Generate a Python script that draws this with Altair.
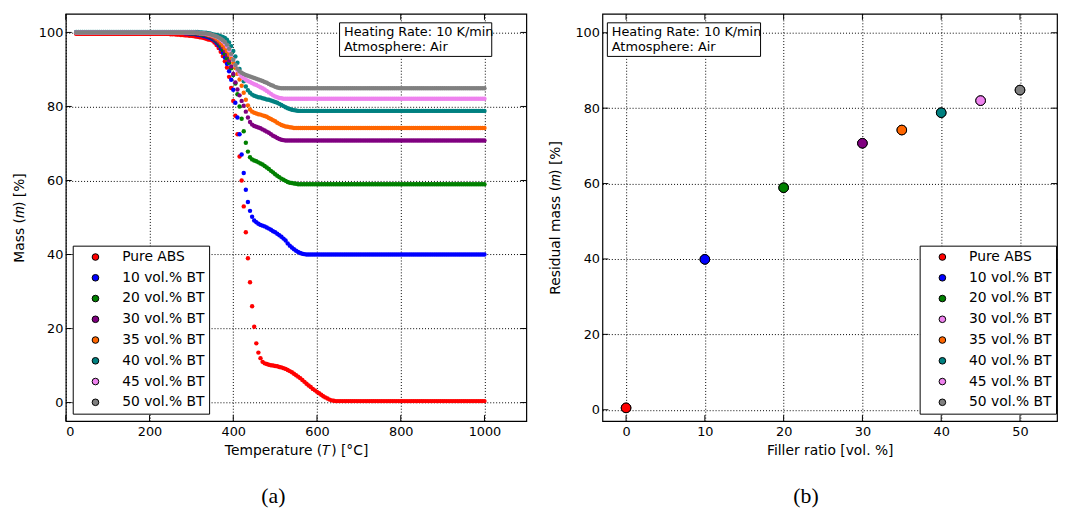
import altair as alt
import pandas as pd

# ---------------- data ----------------
LABELS = ["Pure ABS", "10 vol.% BT", "20 vol.% BT", "30 vol.% BT",
          "35 vol.% BT", "40 vol.% BT", "45 vol.% BT", "50 vol.% BT"]
COLORS = ["#ff0000", "#0000ff", "#008000", "#800080",
          "#ff6600", "#008080", "#ee82ee", "#808080"]
LEGEND_B_COLORS = ["#ff0000", "#0000ff", "#008000", "#ee82ee",
                   "#ff6600", "#008080", "#ee82ee", "#808080"]

X_TICKS_A = [0, 200, 400, 600, 800, 1000]
Y_TICKS = [0, 20, 40, 60, 80, 100]
X_TICKS_B = [0, 10, 20, 30, 40, 50]

BOX_LINES = ["Heating Rate: 10 K/min", "Atmosphere: Air"]
CAPTIONS = ["(a)", "(b)"]

TEMPERATURE = [
    25, 30, 35, 40, 45, 50, 55, 60, 65, 70,
    75, 80, 85, 90, 95, 100, 105, 110, 115, 120,
    125, 130, 135, 140, 145, 150, 155, 160, 165, 170,
    175, 180, 185, 190, 195, 200, 205, 210, 215, 220,
    225, 230, 235, 240, 245, 250, 255, 260, 265, 270,
    275, 280, 285, 290, 295, 300, 305, 310, 315, 320,
    325, 330, 335, 340, 345,
    350, 355, 360, 365, 370, 375, 380, 385, 390, 395,
    400, 405, 410, 415, 420, 425, 430, 435, 440, 445,
    450, 455, 460, 465, 470, 475, 480, 485, 490, 495,
    500, 505, 510, 515, 520, 525, 530, 535, 540, 545,
    550, 555, 560, 565, 570, 575, 580, 585, 590, 595,
    600, 605, 610, 615, 620, 625, 630, 635, 640, 645,
    650,
    655, 660, 665, 670, 675, 680, 685, 690, 695, 700,
    705, 710, 715, 720, 725, 730, 735, 740, 745, 750,
    755, 760, 765, 770, 775, 780, 785, 790, 795, 800,
    805, 810, 815, 820, 825, 830, 835, 840, 845, 850,
    855, 860, 865, 870, 875, 880, 885, 890, 895, 900,
    905, 910, 915, 920, 925, 930, 935, 940, 945, 950,
    955, 960, 965, 970, 975, 980, 985, 990, 995, 1000]

MASS_ABS = [
    99.6, 99.6, 99.6, 99.6, 99.6, 99.6, 99.6, 99.6, 99.6, 99.6,
    99.6, 99.6, 99.6, 99.6, 99.6, 99.6, 99.6, 99.6, 99.6, 99.6,
    99.6, 99.6, 99.6, 99.6, 99.6, 99.6, 99.6, 99.6, 99.6, 99.6,
    99.6, 99.6, 99.6, 99.6, 99.6, 99.6, 99.6, 99.6, 99.6, 99.6,
    99.6, 99.6, 99.6, 99.6, 99.6, 99.5, 99.5, 99.5, 99.4, 99.4,
    99.3, 99.3, 99.2, 99.2, 99.1, 99.1, 99.0, 98.9, 98.8, 98.7,
    98.6, 98.5, 98.3, 98.1, 98.0,
    97.8, 97.3, 96.6, 95.8, 94.8, 93.6, 92.2, 90.5, 88.0, 85.0,
    81.5, 77.5, 72.5, 66.5, 60.0, 53.0, 46.0, 39.0, 32.5, 26.0,
    20.5, 16.0, 13.5, 12.0, 11.0, 10.6, 10.4, 10.2, 10.1, 10.0,
    9.9, 9.8, 9.6, 9.5, 9.3, 9.1, 8.8, 8.5, 8.2, 7.8,
    7.4, 7.0, 6.6, 6.1, 5.6, 5.1, 4.6, 4.2, 3.7, 3.3,
    2.9, 2.5, 2.1, 1.7, 1.4, 1.1, 0.8, 0.6, 0.5, 0.4,
    0.4,
    0.4, 0.4, 0.4, 0.4, 0.4, 0.4, 0.4, 0.4, 0.4, 0.4,
    0.4, 0.4, 0.4, 0.4, 0.4, 0.4, 0.4, 0.4, 0.4, 0.4,
    0.4, 0.4, 0.4, 0.4, 0.4, 0.4, 0.4, 0.4, 0.4, 0.4,
    0.4, 0.4, 0.4, 0.4, 0.4, 0.4, 0.4, 0.4, 0.4, 0.4,
    0.4, 0.4, 0.4, 0.4, 0.4, 0.4, 0.4, 0.4, 0.4, 0.4,
    0.4, 0.4, 0.4, 0.4, 0.4, 0.4, 0.4, 0.4, 0.4, 0.4,
    0.4, 0.4, 0.4, 0.4, 0.4, 0.4, 0.4, 0.4, 0.4, 0.4]
MASS_10 = [
    100.0, 100.0, 100.0, 100.0, 100.0, 100.0, 100.0, 100.0, 100.0, 100.0,
    100.0, 100.0, 100.0, 100.0, 100.0, 100.0, 100.0, 100.0, 100.0, 100.0,
    100.0, 100.0, 100.0, 100.0, 100.0, 100.0, 100.0, 100.0, 100.0, 100.0,
    100.0, 100.0, 100.0, 100.0, 100.0, 100.0, 100.0, 100.0, 100.0, 100.0,
    100.0, 100.0, 100.0, 100.0, 100.0, 100.0, 100.0, 100.0, 99.9, 99.9,
    99.9, 99.9, 99.8, 99.8, 99.7, 99.7, 99.6, 99.5, 99.4, 99.3,
    99.2, 99.0, 98.9, 98.7, 98.5,
    98.2, 97.8, 97.2, 96.5, 95.6, 94.5, 93.2, 91.5, 89.5, 87.2,
    84.5, 81.0, 77.0, 72.5, 67.0, 62.0, 57.5, 54.2, 51.8, 50.2,
    49.2, 48.7, 48.3, 48.0, 47.8, 47.6, 47.3, 47.0, 46.7, 46.3,
    46.0, 45.6, 45.2, 44.8, 44.3, 43.8, 43.0, 42.4, 41.9, 41.4,
    41.0, 40.7, 40.4, 40.2, 40.1, 40.0, 40.0, 40.0, 40.0, 40.0,
    40.0, 40.0, 40.0, 40.0, 40.0, 40.0, 40.0, 40.0, 40.0, 40.0,
    40.0,
    40.0, 40.0, 40.0, 40.0, 40.0, 40.0, 40.0, 40.0, 40.0, 40.0,
    40.0, 40.0, 40.0, 40.0, 40.0, 40.0, 40.0, 40.0, 40.0, 40.0,
    40.0, 40.0, 40.0, 40.0, 40.0, 40.0, 40.0, 40.0, 40.0, 40.0,
    40.0, 40.0, 40.0, 40.0, 40.0, 40.0, 40.0, 40.0, 40.0, 40.0,
    40.0, 40.0, 40.0, 40.0, 40.0, 40.0, 40.0, 40.0, 40.0, 40.0,
    40.0, 40.0, 40.0, 40.0, 40.0, 40.0, 40.0, 40.0, 40.0, 40.0,
    40.0, 40.0, 40.0, 40.0, 40.0, 40.0, 40.0, 40.0, 40.0, 40.0]
MASS_20 = [
    100.0, 100.0, 100.0, 100.0, 100.0, 100.0, 100.0, 100.0, 100.0, 100.0,
    100.0, 100.0, 100.0, 100.0, 100.0, 100.0, 100.0, 100.0, 100.0, 100.0,
    100.0, 100.0, 100.0, 100.0, 100.0, 100.0, 100.0, 100.0, 100.0, 100.0,
    100.0, 100.0, 100.0, 100.0, 100.0, 100.0, 100.0, 100.0, 100.0, 100.0,
    100.0, 100.0, 100.0, 100.0, 100.0, 100.0, 100.0, 100.0, 100.0, 100.0,
    99.9, 99.9, 99.9, 99.9, 99.8, 99.8, 99.7, 99.7, 99.6, 99.5,
    99.4, 99.3, 99.2, 99.0, 98.8,
    98.5, 98.1, 97.6, 97.0, 96.2, 95.3, 94.2, 93.0, 91.8, 90.3,
    88.5, 86.2, 83.3, 80.0, 76.7, 73.3, 70.2, 67.8, 66.3, 65.7,
    65.4, 65.2, 64.9, 64.6, 64.3, 63.9, 63.5, 63.1, 62.6, 62.2,
    61.7, 61.3, 60.9, 60.5, 60.2, 59.9, 59.6, 59.4, 59.3, 59.2,
    59.1, 59.0, 59.0, 59.0, 59.0, 59.0, 59.0, 59.0, 59.0, 59.0,
    59.0, 59.0, 59.0, 59.0, 59.0, 59.0, 59.0, 59.0, 59.0, 59.0,
    59.0,
    59.0, 59.0, 59.0, 59.0, 59.0, 59.0, 59.0, 59.0, 59.0, 59.0,
    59.0, 59.0, 59.0, 59.0, 59.0, 59.0, 59.0, 59.0, 59.0, 59.0,
    59.0, 59.0, 59.0, 59.0, 59.0, 59.0, 59.0, 59.0, 59.0, 59.0,
    59.0, 59.0, 59.0, 59.0, 59.0, 59.0, 59.0, 59.0, 59.0, 59.0,
    59.0, 59.0, 59.0, 59.0, 59.0, 59.0, 59.0, 59.0, 59.0, 59.0,
    59.0, 59.0, 59.0, 59.0, 59.0, 59.0, 59.0, 59.0, 59.0, 59.0,
    59.0, 59.0, 59.0, 59.0, 59.0, 59.0, 59.0, 59.0, 59.0, 59.0]
MASS_30 = [
    100.0, 100.0, 100.0, 100.0, 100.0, 100.0, 100.0, 100.0, 100.0, 100.0,
    100.0, 100.0, 100.0, 100.0, 100.0, 100.0, 100.0, 100.0, 100.0, 100.0,
    100.0, 100.0, 100.0, 100.0, 100.0, 100.0, 100.0, 100.0, 100.0, 100.0,
    100.0, 100.0, 100.0, 100.0, 100.0, 100.0, 100.0, 100.0, 100.0, 100.0,
    100.0, 100.0, 100.0, 100.0, 100.0, 100.0, 100.0, 100.0, 100.0, 100.0,
    100.0, 100.0, 99.9, 99.9, 99.9, 99.9, 99.8, 99.8, 99.7, 99.7,
    99.6, 99.5, 99.3, 99.2, 99.0,
    98.7, 98.3, 97.9, 97.4, 96.8, 96.0, 95.0, 93.8, 92.4, 90.8,
    88.8, 86.5, 84.6, 83.0, 81.5, 80.2, 78.6, 77.0, 75.8, 75.1,
    74.7, 74.5, 74.3, 74.1, 73.8, 73.5, 73.2, 72.9, 72.5, 72.1,
    71.8, 71.5, 71.2, 71.0, 70.9, 70.8, 70.8, 70.8, 70.8, 70.8,
    70.8, 70.8, 70.8, 70.8, 70.8, 70.8, 70.8, 70.8, 70.8, 70.8,
    70.8, 70.8, 70.8, 70.8, 70.8, 70.8, 70.8, 70.8, 70.8, 70.8,
    70.8,
    70.8, 70.8, 70.8, 70.8, 70.8, 70.8, 70.8, 70.8, 70.8, 70.8,
    70.8, 70.8, 70.8, 70.8, 70.8, 70.8, 70.8, 70.8, 70.8, 70.8,
    70.8, 70.8, 70.8, 70.8, 70.8, 70.8, 70.8, 70.8, 70.8, 70.8,
    70.8, 70.8, 70.8, 70.8, 70.8, 70.8, 70.8, 70.8, 70.8, 70.8,
    70.8, 70.8, 70.8, 70.8, 70.8, 70.8, 70.8, 70.8, 70.8, 70.8,
    70.8, 70.8, 70.8, 70.8, 70.8, 70.8, 70.8, 70.8, 70.8, 70.8,
    70.8, 70.8, 70.8, 70.8, 70.8, 70.8, 70.8, 70.8, 70.8, 70.8]
MASS_35 = [
    100.0, 100.0, 100.0, 100.0, 100.0, 100.0, 100.0, 100.0, 100.0, 100.0,
    100.0, 100.0, 100.0, 100.0, 100.0, 100.0, 100.0, 100.0, 100.0, 100.0,
    100.0, 100.0, 100.0, 100.0, 100.0, 100.0, 100.0, 100.0, 100.0, 100.0,
    100.0, 100.0, 100.0, 100.0, 100.0, 100.0, 100.0, 100.0, 100.0, 100.0,
    100.0, 100.0, 100.0, 100.0, 100.0, 100.0, 100.0, 100.0, 100.0, 100.0,
    100.0, 100.0, 100.0, 100.0, 99.9, 99.9, 99.9, 99.9, 99.8, 99.8,
    99.7, 99.6, 99.5, 99.3, 99.2,
    99.0, 98.7, 98.3, 97.8, 97.2, 96.5, 95.7, 94.9, 94.0, 93.0,
    91.8, 90.4, 88.8, 87.3, 85.6, 83.7, 81.8, 80.3, 79.2, 78.6,
    78.3, 78.1, 77.9, 77.8, 77.6, 77.4, 77.2, 76.9, 76.6, 76.3,
    76.0, 75.6, 75.3, 75.0, 74.8, 74.6, 74.5, 74.4, 74.3, 74.2,
    74.2, 74.2, 74.2, 74.2, 74.2, 74.2, 74.2, 74.2, 74.2, 74.2,
    74.2, 74.2, 74.2, 74.2, 74.2, 74.2, 74.2, 74.2, 74.2, 74.2,
    74.2,
    74.2, 74.2, 74.2, 74.2, 74.2, 74.2, 74.2, 74.2, 74.2, 74.2,
    74.2, 74.2, 74.2, 74.2, 74.2, 74.2, 74.2, 74.2, 74.2, 74.2,
    74.2, 74.2, 74.2, 74.2, 74.2, 74.2, 74.2, 74.2, 74.2, 74.2,
    74.2, 74.2, 74.2, 74.2, 74.2, 74.2, 74.2, 74.2, 74.2, 74.2,
    74.2, 74.2, 74.2, 74.2, 74.2, 74.2, 74.2, 74.2, 74.2, 74.2,
    74.2, 74.2, 74.2, 74.2, 74.2, 74.2, 74.2, 74.2, 74.2, 74.2,
    74.2, 74.2, 74.2, 74.2, 74.2, 74.2, 74.2, 74.2, 74.2, 74.2]
MASS_40 = [
    100.1, 100.1, 100.1, 100.1, 100.1, 100.1, 100.1, 100.1, 100.1, 100.1,
    100.1, 100.1, 100.1, 100.1, 100.1, 100.1, 100.1, 100.1, 100.1, 100.1,
    100.1, 100.1, 100.1, 100.1, 100.1, 100.1, 100.1, 100.1, 100.1, 100.1,
    100.1, 100.1, 100.1, 100.1, 100.1, 100.1, 100.1, 100.1, 100.1, 100.1,
    100.1, 100.1, 100.1, 100.1, 100.1, 100.1, 100.1, 100.1, 100.1, 100.1,
    100.1, 100.1, 100.1, 100.1, 100.1, 100.1, 100.1, 100.1, 100.1, 100.0,
    100.0, 99.9, 99.9, 99.8, 99.7,
    99.5, 99.4, 99.3, 99.2, 99.0, 98.8, 98.5, 98.0, 97.3, 96.3,
    95.0, 93.5, 91.8, 90.1, 88.4, 86.8, 85.4, 84.4, 83.7, 83.2,
    82.9, 82.7, 82.5, 82.4, 82.2, 82.1, 81.9, 81.8, 81.6, 81.4,
    81.2, 81.0, 80.7, 80.4, 80.1, 79.8, 79.5, 79.3, 79.1, 79.0,
    78.9, 78.8, 78.8, 78.8, 78.8, 78.8, 78.8, 78.8, 78.8, 78.8,
    78.8, 78.8, 78.8, 78.8, 78.8, 78.8, 78.8, 78.8, 78.8, 78.8,
    78.8,
    78.8, 78.8, 78.8, 78.8, 78.8, 78.8, 78.8, 78.8, 78.8, 78.8,
    78.8, 78.8, 78.8, 78.8, 78.8, 78.8, 78.8, 78.8, 78.8, 78.8,
    78.8, 78.8, 78.8, 78.8, 78.8, 78.8, 78.8, 78.8, 78.8, 78.8,
    78.8, 78.8, 78.8, 78.8, 78.8, 78.8, 78.8, 78.8, 78.8, 78.8,
    78.8, 78.8, 78.8, 78.8, 78.8, 78.8, 78.8, 78.8, 78.8, 78.8,
    78.8, 78.8, 78.8, 78.8, 78.8, 78.8, 78.8, 78.8, 78.8, 78.8,
    78.8, 78.8, 78.8, 78.8, 78.8, 78.8, 78.8, 78.8, 78.8, 78.8]
MASS_45 = [
    100.0, 100.0, 100.0, 100.0, 100.0, 100.0, 100.0, 100.0, 100.0, 100.0,
    100.0, 100.0, 100.0, 100.0, 100.0, 100.0, 100.0, 100.0, 100.0, 100.0,
    100.0, 100.0, 100.0, 100.0, 100.0, 100.0, 100.0, 100.0, 100.0, 100.0,
    100.0, 100.0, 100.0, 100.0, 100.0, 100.0, 100.0, 100.0, 100.0, 100.0,
    100.0, 100.0, 100.0, 100.0, 100.0, 100.0, 100.0, 100.0, 100.0, 100.0,
    100.0, 100.0, 100.0, 100.0, 100.0, 100.0, 100.0, 99.9, 99.9, 99.8,
    99.8, 99.7, 99.6, 99.5, 99.4,
    99.2, 99.0, 98.8, 98.5, 98.1, 97.6, 97.0, 96.2, 95.2, 94.0,
    92.6, 91.1, 89.8, 88.8, 88.1, 87.6, 87.2, 86.9, 86.6, 86.3,
    86.0, 85.8, 85.5, 85.2, 84.9, 84.6, 84.2, 83.8, 83.4, 83.0,
    82.7, 82.5, 82.3, 82.2, 82.1, 82.1, 82.1, 82.1, 82.1, 82.1,
    82.1, 82.1, 82.1, 82.1, 82.1, 82.1, 82.1, 82.1, 82.1, 82.1,
    82.1, 82.1, 82.1, 82.1, 82.1, 82.1, 82.1, 82.1, 82.1, 82.1,
    82.1,
    82.1, 82.1, 82.1, 82.1, 82.1, 82.1, 82.1, 82.1, 82.1, 82.1,
    82.1, 82.1, 82.1, 82.1, 82.1, 82.1, 82.1, 82.1, 82.1, 82.1,
    82.1, 82.1, 82.1, 82.1, 82.1, 82.1, 82.1, 82.1, 82.1, 82.1,
    82.1, 82.1, 82.1, 82.1, 82.1, 82.1, 82.1, 82.1, 82.1, 82.1,
    82.1, 82.1, 82.1, 82.1, 82.1, 82.1, 82.1, 82.1, 82.1, 82.1,
    82.1, 82.1, 82.1, 82.1, 82.1, 82.1, 82.1, 82.1, 82.1, 82.1,
    82.1, 82.1, 82.1, 82.1, 82.1, 82.1, 82.1, 82.1, 82.1, 82.1]
MASS_50 = [
    100.0, 100.0, 100.0, 100.0, 100.0, 100.0, 100.0, 100.0, 100.0, 100.0,
    100.0, 100.0, 100.0, 100.0, 100.0, 100.0, 100.0, 100.0, 100.0, 100.0,
    100.0, 100.0, 100.0, 100.0, 100.0, 100.0, 100.0, 100.0, 100.0, 100.0,
    100.0, 100.0, 100.0, 100.0, 100.0, 100.0, 100.0, 100.0, 100.0, 100.0,
    100.0, 100.0, 100.0, 100.0, 100.0, 100.0, 100.0, 100.0, 100.0, 100.0,
    100.0, 100.0, 100.0, 100.0, 100.0, 100.0, 100.0, 99.9, 99.9, 99.8,
    99.8, 99.7, 99.7, 99.6, 99.5,
    99.3, 99.1, 98.9, 98.6, 98.3, 97.9, 97.4, 96.7, 95.6, 94.2,
    92.6, 91.2, 90.2, 89.5, 89.1, 88.8, 88.5, 88.3, 88.1, 87.9,
    87.7, 87.5, 87.3, 87.1, 86.9, 86.6, 86.4, 86.1, 85.8, 85.6,
    85.3, 85.1, 85.0, 84.9, 84.9, 84.9, 84.9, 84.9, 84.9, 84.9,
    84.9, 84.9, 84.9, 84.9, 84.9, 84.9, 84.9, 84.9, 84.9, 84.9,
    84.9, 84.9, 84.9, 84.9, 84.9, 84.9, 84.9, 84.9, 84.9, 84.9,
    84.9,
    84.9, 84.9, 84.9, 84.9, 84.9, 84.9, 84.9, 84.9, 84.9, 84.9,
    84.9, 84.9, 84.9, 84.9, 84.9, 84.9, 84.9, 84.9, 84.9, 84.9,
    84.9, 84.9, 84.9, 84.9, 84.9, 84.9, 84.9, 84.9, 84.9, 84.9,
    84.9, 84.9, 84.9, 84.9, 84.9, 84.9, 84.9, 84.9, 84.9, 84.9,
    84.9, 84.9, 84.9, 84.9, 84.9, 84.9, 84.9, 84.9, 84.9, 84.9,
    84.9, 84.9, 84.9, 84.9, 84.9, 84.9, 84.9, 84.9, 84.9, 84.9,
    84.9, 84.9, 84.9, 84.9, 84.9, 84.9, 84.9, 84.9, 84.9, 84.9]

FILLER = [0, 10, 20, 30, 35, 40, 45, 50]
RESIDUAL = [0.5, 39.9, 58.9, 70.7, 74.2, 78.8, 82.0, 84.8]

SERIES = [MASS_ABS, MASS_10, MASS_20, MASS_30, MASS_35, MASS_40, MASS_45, MASS_50]
for s in SERIES:
    assert len(s) == len(TEMPERATURE), (len(s), len(TEMPERATURE))

# ---------------- tables ----------------
rows = []
for label, vals in zip(LABELS, SERIES):
    for t, m in zip(TEMPERATURE, vals):
        rows.append({"T": t, "mass": m, "series": label})
df_a = pd.DataFrame(rows)
df_b = pd.DataFrame({"filler": FILLER, "residual": RESIDUAL, "label": LABELS})

# ---------------- layout constants ----------------
W_A, W_B, H = 466, 460, 412
FONT = "DejaVu Sans"
TICK = 6

XS_A = alt.Scale(domain=[0, 1100], nice=False, zero=False)
YS_A = alt.Scale(domain=[-5, 105], nice=False, zero=False)
XS_B = alt.Scale(domain=[-3, 54.7], nice=False, zero=False)
YS_B = alt.Scale(domain=[-3, 105], nice=False, zero=False)

AX_XA = alt.Axis(values=X_TICKS_A, format="d", title="Temperature (𝑇) [°C]")
AX_YA = alt.Axis(values=Y_TICKS, format="d", title="Mass (𝑚) [%]")
AX_XB = alt.Axis(values=X_TICKS_B, format="d", title="Filler ratio [vol. %]")
AX_YB = alt.Axis(values=Y_TICKS, format="d", title="Residual mass (𝑚) [%]")


def legend(x, y):
    return alt.Legend(orient="none", legendX=x, legendY=y, title=None,
                      strokeColor="black", fillColor="white", padding=4.5,
                      symbolOffset=11.5, symbolSize=45, symbolType="circle",
                      symbolStrokeColor="black", symbolStrokeWidth=1,
                      symbolOpacity=1, labelFont=FONT, labelFontSize=14,
                      labelColor="black", labelOffset=20, rowPadding=7,
                      cornerRadius=0)


def tick_layers(xvals, yvals, xs, ys, xax, yax, w):
    dx = pd.DataFrame({"v": xvals})
    dy = pd.DataFrame({"v": yvals})
    xa = alt.X("v:Q", scale=xs, axis=xax)
    ya = alt.Y("v:Q", scale=ys, axis=yax)
    base = dict(color="black", strokeWidth=1)
    return [
        alt.Chart(dy).mark_rule(**base).encode(y=ya, x=alt.value(0), x2=alt.value(TICK)),
        alt.Chart(dy).mark_rule(**base).encode(y=ya, x=alt.value(w), x2=alt.value(w - TICK)),
        alt.Chart(dx).mark_rule(**base).encode(x=xa, y=alt.value(0), y2=alt.value(TICK)),
        alt.Chart(dx).mark_rule(**base).encode(x=xa, y=alt.value(H), y2=alt.value(H - TICK)),
    ]


def info_box(x0, x1):
    one = df_b.head(1)
    box = alt.Chart(one).mark_rect(fill="white", stroke="black", strokeWidth=1).encode(
        x=alt.value(x0), x2=alt.value(x1), y=alt.value(9), y2=alt.value(43))
    t1 = alt.Chart(one).mark_text(text=BOX_LINES[0], font=FONT, fontSize=13, align="left",
                                  baseline="middle", color="black").encode(
        x=alt.value(x0 + 4.5), y=alt.value(18))
    t2 = alt.Chart(one).mark_text(text=BOX_LINES[1], font=FONT, fontSize=13, align="left",
                                  baseline="middle", color="black").encode(
        x=alt.value(x0 + 4.5), y=alt.value(33.5))
    return [box, t1, t2]


def caption(text, x):
    return alt.Chart(df_b.head(1)).mark_text(text=text, font="Liberation Serif", fontSize=22,
                                             align="center", baseline="middle", color="black").encode(
        x=alt.value(x), y=alt.value(488))


# ---------------- panel (a) ----------------
dots = alt.Chart(df_a).mark_circle(size=20, opacity=1).encode(
    x=alt.X("T:Q", scale=XS_A, axis=AX_XA),
    y=alt.Y("mass:Q", scale=YS_A, axis=AX_YA),
    color=alt.Color("series:N", scale=alt.Scale(domain=LABELS, range=COLORS),
                    legend=legend(7, 234.5)),
)
panel_a = alt.layer(dots, *tick_layers(X_TICKS_A, Y_TICKS, XS_A, YS_A, AX_XA, AX_YA, W_A),
                    *info_box(277, 431), caption(CAPTIONS[0], 210)).properties(width=W_A, height=H)

# ---------------- panel (b) ----------------
xb = alt.X("filler:Q", scale=XS_B, axis=AX_XB)
yb = alt.Y("residual:Q", scale=YS_B, axis=AX_YB)
legend_pts = alt.Chart(df_b).mark_circle(size=95, opacity=1, stroke="black", strokeWidth=1).encode(
    x=xb, y=yb,
    color=alt.Color("label:N", scale=alt.Scale(domain=LABELS, range=LEGEND_B_COLORS),
                    legend=legend(321, 234.5)),
)
real_pts = alt.Chart(df_b).mark_circle(size=95, opacity=1, stroke="black", strokeWidth=1).encode(
    x=xb, y=yb,
    fill=alt.Fill("label:N", scale=alt.Scale(domain=LABELS, range=COLORS), legend=None),
)
panel_b = alt.layer(legend_pts, real_pts,
                    *tick_layers(X_TICKS_B, Y_TICKS, XS_B, YS_B, AX_XB, AX_YB, W_B),
                    *info_box(5, 160), caption(CAPTIONS[1], 206)).properties(width=W_B, height=H)

chart = alt.hconcat(panel_a, panel_b, spacing=20).resolve_scale(
    color="independent", fill="independent", x="independent", y="independent"
).properties(
    padding={"left": 3.5, "top": 1, "right": 0, "bottom": 0}
).configure_view(
    stroke="black", strokeWidth=1.2
).configure_axis(
    grid=True, gridColor="black", gridDash=[1, 2], gridWidth=1, gridOpacity=1,
    domain=False, ticks=False, tickSize=0,
    labelFont=FONT, labelFontSize=13, labelColor="black",
    titleFont=FONT, titleFontSize=14, titleColor="black", titleFontWeight="normal",
).configure_axisY(labelPadding=3, titlePadding=12.2).configure_axisX(labelPadding=5, titlePadding=5)

chart.save("out.html", embed_options={"renderer": "svg", "actions": False})
